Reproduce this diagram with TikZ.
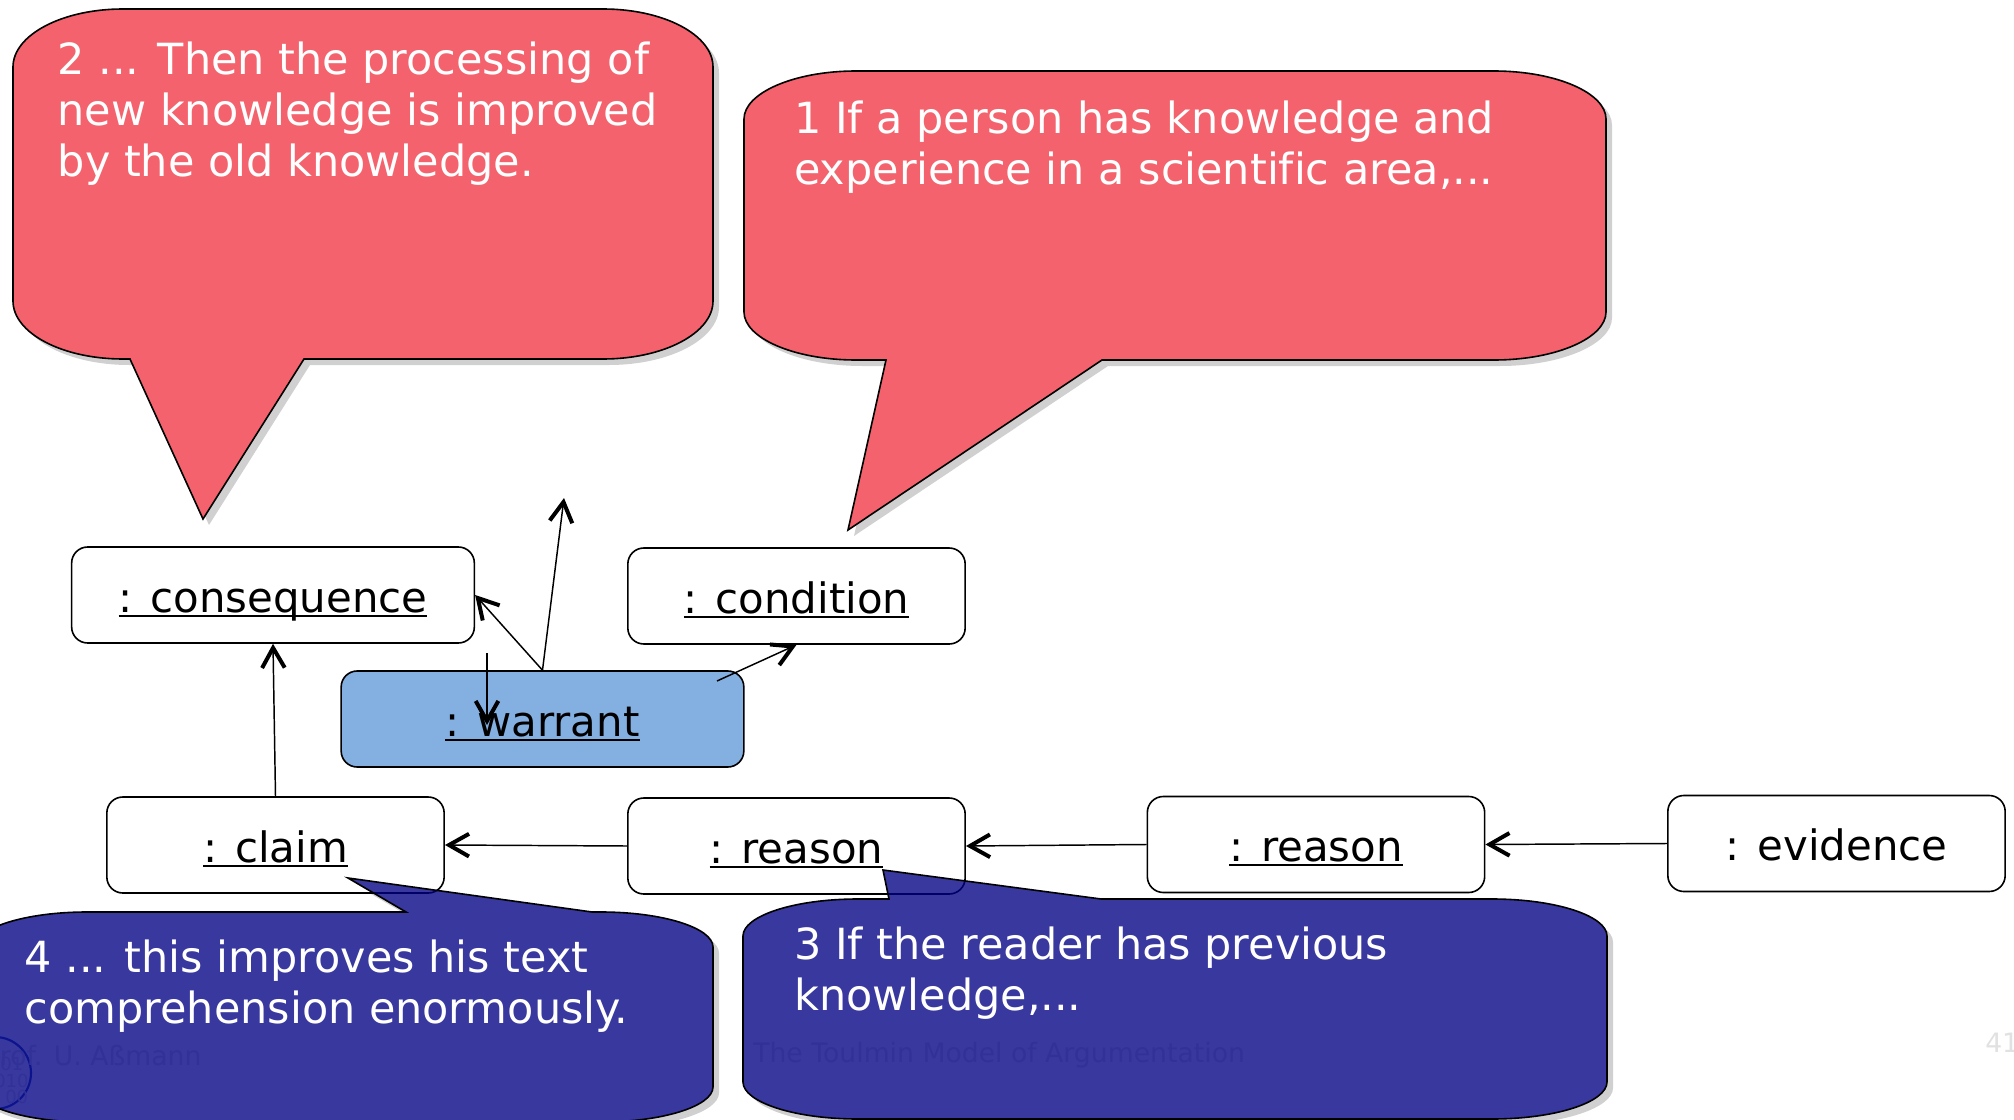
\documentclass[tikz,border=0pt]{standalone}
\usepackage{fontspec}
\usepackage{xcolor}
\usepackage{tikz}
\usetikzlibrary{arrows.meta}
\setmainfont[Ligatures=NoCommon]{DejaVu Sans}

\newsavebox{\unamebox}
\newcommand{\uname}[1]{\sbox{\unamebox}{#1}\rlap{\rule[-3.7pt]{\wd\unamebox}{1.8pt}}\usebox{\unamebox}}

\definecolor{noteRed}{RGB}{242,56,69}
\definecolor{noteBlue}{RGB}{0,0,132}
\definecolor{noteShadow}{RGB}{208,208,208}
\definecolor{warrantBlue}{RGB}{132,175,225}
\definecolor{footerGray}{RGB}{225,225,225}
\definecolor{logoRing}{RGB}{60,90,170}

\tikzset{
  objbox/.style={draw,line width=1.2pt,fill=white,rounded corners=12pt,minimum height=72pt,inner sep=0pt,
    text height=30pt,text depth=4.5pt,font=\fontsize{31.4}{38}\selectfont},
  widebox/.style={objbox,minimum width=302pt},
  narrowbox/.style={objbox,minimum width=253pt},
  link/.style={line width=1.1pt,-{Straight Barb[length=15pt,width=17pt,line width=3pt]}},
  noteshadow/.style={fill=noteShadow,shift={(6,6)}},
  notefill/.style={draw=black,line width=1.2pt,fill opacity=0.78},
  notetext/.style={anchor=north west,inner sep=0pt,align=left,text=white,font=\fontsize{32.2}{38.2}\selectfont},
  footer/.style={anchor=base west,inner sep=0pt,text=footerGray,font=\fontsize{20}{24}\selectfont},
  logodigit/.style={anchor=base west,inner sep=0pt,text=footerGray,font=\fontsize{13.5}{16}\selectfont},
}

\def\noteTwo{(123,9) -- (603,9) .. controls (664,9) and (713,35) .. (713,67) -- (713,301) .. controls (713,333) and (664,359) .. (603,359) -- (304,359) -- (203,519) -- (130,359) -- (123,359) .. controls (62,359) and (13,333) .. (13,301) -- (13,67) .. controls (13,35) and (62,9) .. (123,9) -- cycle}
\def\noteOne{(856,71) -- (1494,71) .. controls (1556,71) and (1606,93) .. (1606,119) -- (1606,312) .. controls (1606,338) and (1556,360) .. (1494,360) -- (1102,360) -- (848,530) -- (886,360) -- (856,360) .. controls (794,360) and (744,338) .. (744,312) -- (744,119) .. controls (744,93) and (794,71) .. (856,71) -- cycle}
\def\noteFour{(87,912) -- (406,912) -- (348,878) -- (592,912) -- (601,912) .. controls (663,912) and (713,928) .. (713,947) -- (713,1087) .. controls (713,1106) and (663,1122) .. (601,1122) -- (87,1122) .. controls (25,1122) and (-25,1106) .. (-25,1087) -- (-25,947) .. controls (-25,928) and (25,912) .. (87,912) -- cycle}
\def\noteThree{(858,899) -- (889,899) -- (883,870) -- (1101,899) -- (1492,899) .. controls (1556,899) and (1607,916) .. (1607,936) -- (1607,1082) .. controls (1607,1102) and (1556,1119) .. (1492,1119) -- (858,1119) .. controls (794,1119) and (743,1102) .. (743,1082) -- (743,936) .. controls (743,916) and (794,899) .. (858,899) -- cycle}

\begin{document}
\begin{tikzpicture}[x=0.75pt,y=0.75pt,yscale=-1,xscale=1]
\useasboundingbox (0,0) rectangle (2014,1120);

%Shadows of the notes, white underneath so that they do not tint the fill
\fill[noteshadow] \noteTwo;
\fill[noteshadow] \noteOne;
\fill[noteshadow] \noteFour;
\fill[noteshadow] \noteThree;
\fill[white] \noteTwo;
\fill[white] \noteOne;
\fill[white] \noteFour;
\fill[white] \noteThree;

%Footer
\draw[line width=1.6pt,logoRing] (-5,1073) circle (36);
\node[logodigit] (digitsa) at (0,1070) {01};
\node[logodigit] (digitsb) at (-6,1087) {010};
\node[logodigit] (digitsc) at (5,1103) {00};
\node[footer] (author) at (-16,1065) {Prof. U. Aßmann};
\node[footer] (title) at (753,1062) {The Toulmin Model of Argumentation};
\node[footer] (pageno) at (1985,1052) {41};

%Objects
\node[widebox] (consequence) at (273,595) {\uname{: consequence}};
\node[narrowbox] (condition) at (796.5,596) {\uname{: condition}};
\node[widebox,fill=warrantBlue] (warrant) at (542.5,719) {\uname{: warrant}};
\node[narrowbox] (claim) at (275.5,845) {\uname{: claim}};
\node[narrowbox] (reasonone) at (796.5,846) {\uname{: reason}};
\node[narrowbox] (reasontwo) at (1316,844.5) {\uname{: reason}};
\node[narrowbox] (evidence) at (1836.5,843.5) {: evidence};

%Free ends
\coordinate (warrantup) at (564,498);
\coordinate (warrantright) at (717,681);
\coordinate (dropstart) at (487,653);
\coordinate (dropend) at (487,725);

%Links
\draw[link] (claim.north) -- (consequence.south);
\draw[link] (reasonone.west) -- (claim.east);
\draw[link] (reasontwo.west) -- (reasonone.east);
\draw[link] (evidence.west) -- (reasontwo.east);
\draw[link] (warrant.north) -- (consequence.east);
\draw[link] (warrant.north) -- (warrantup);
\draw[link] (warrantright) -- (condition.south);
\draw[link] (dropstart) -- (dropend);

%Notes
\draw[notefill,fill=noteRed] \noteTwo;
\draw[notefill,fill=noteRed] \noteOne;
\draw[notefill,fill=noteBlue] \noteFour;
\draw[notefill,fill=noteBlue] \noteThree;

% Text Node
\node[notetext] (texttwo) at (57.5,42) {2 ... Then the processing of\\new knowledge is improved\\by the old knowledge.};
% Text Node
\node[notetext] (textone) at (794,101) {1 If a person has knowledge and\\experience in a scientific area,...};
% Text Node
\node[notetext] (textfour) at (24.5,940) {4 ... this improves his text\\comprehension enormously.};
% Text Node
\node[notetext] (textthree) at (794,927) {3 If the reader has previous\\knowledge,...};

\end{tikzpicture}
\end{document}
